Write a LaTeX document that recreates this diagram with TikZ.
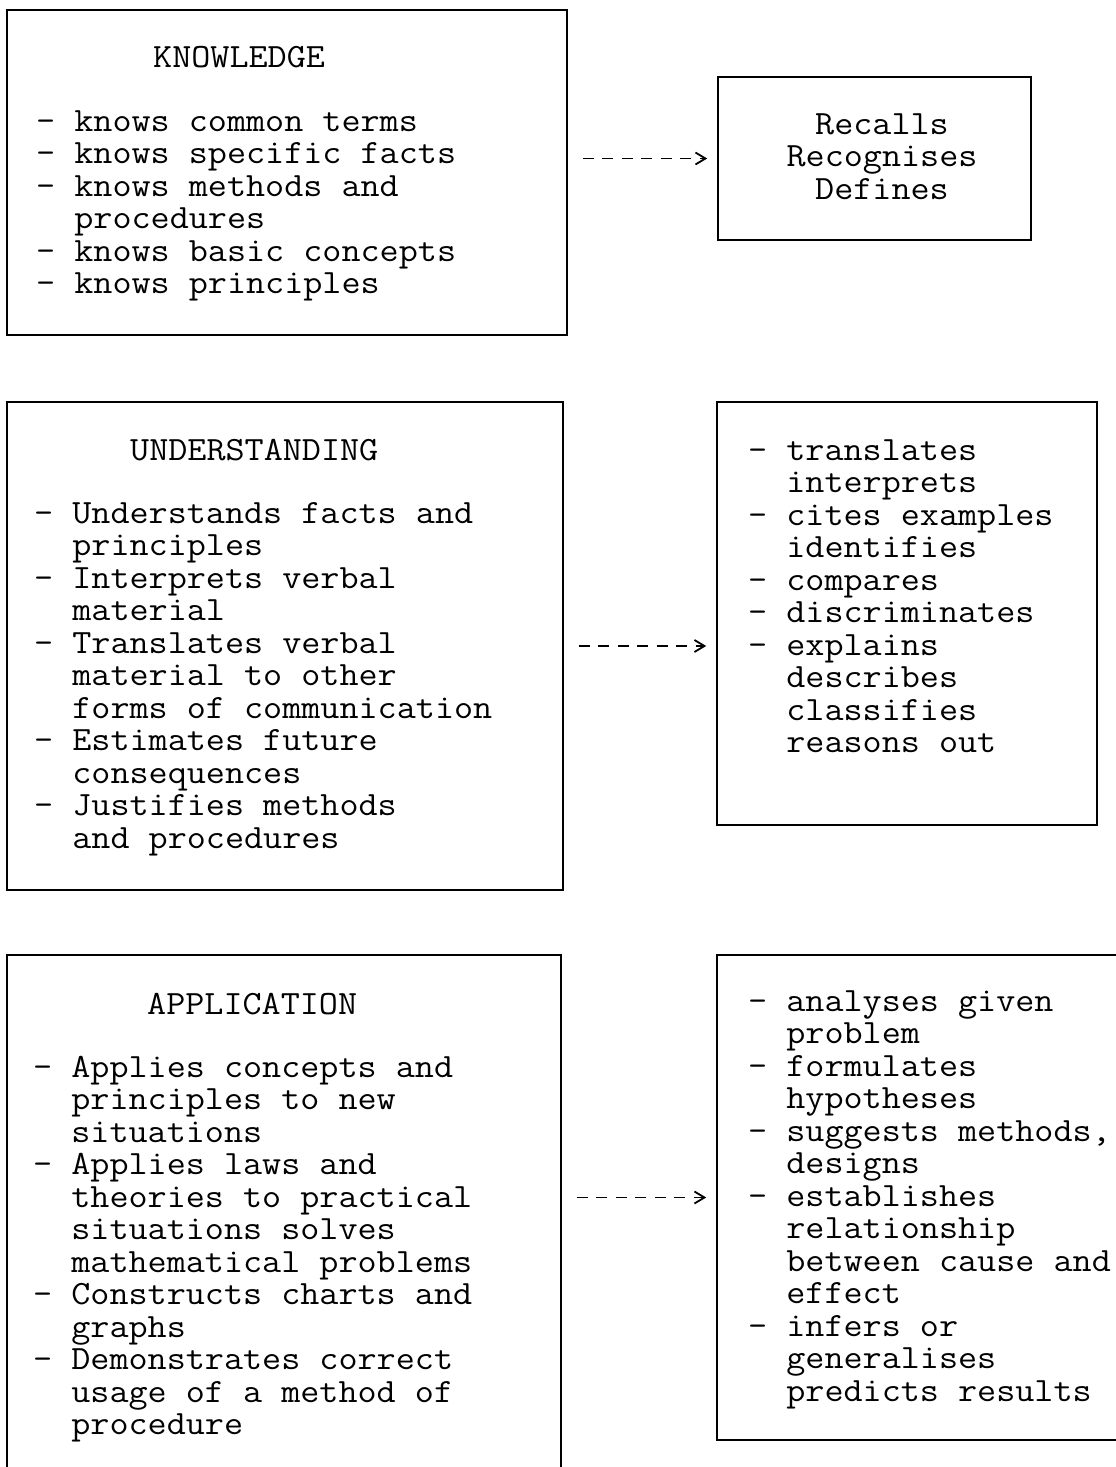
\documentclass[tikz,border=0pt]{standalone}
\usepackage{fontspec}
\newfontfamily\typer[FakeStretch=1.09]{Latin Modern Mono}
\usetikzlibrary{arrows.meta}

% hanging indent under a "- " item
\newcommand{\cont}{\hphantom{-}\ }

\begin{document}
\begin{tikzpicture}[x=1pt,y=-1pt,
  frame/.style={draw, line width=1.6pt, inner sep=0pt},
  typed/.style={font={\typer\fontsize{34}{32.5}\selectfont}, inner sep=0pt, align=left, anchor=base west},
  leads/.style={line width=1.8pt, dash pattern=on 11pt off 8.5pt, -{Straight Barb[length=10pt,width=12pt]}, shorten <=15pt, shorten >=10pt}]
  \useasboundingbox (0,0) rectangle (1116,1467);

  % left column
  \node[frame, minimum width=560pt, minimum height=325pt] (know)  at (287,172.5) {};
  \node[frame, minimum width=556pt, minimum height=488pt] (under) at (285,646) {};
  \node[frame, minimum width=554pt, minimum height=540pt] (apply) at (284,1225) {};

  % right column
  \node[frame, minimum width=313pt, minimum height=163pt] (recall)  at (874.5,158.5) {};
  \node[frame, minimum width=380pt, minimum height=423pt] (interp)  at (907,613.5) {};
  \node[frame, minimum width=430pt, minimum height=485pt] (analyse) at (932,1197.5) {};

  % texts (a list node sits on the baseline of its last line)
  \node[typed] (knowTitle) at (153,67) {KNOWLEDGE};
  \node[typed] (knowList) at (36,293.5) {- knows common terms\\
- knows specific facts\\
- knows methods and\\
\cont procedures\\
- knows basic concepts\\
- knows principles};

  \node[typed, align=center, anchor=base] (recallList) at (882,199) {Recalls\\Recognises\\Defines};

  \node[typed] (underTitle) at (130,460) {UNDERSTANDING};
  \node[typed] (underList) at (34,848) {- Understands facts and\\
\cont principles\\
- Interprets verbal\\
\cont material\\
- Translates verbal\\
\cont material to other\\
\cont forms of communication\\
- Estimates future\\
\cont consequences\\
- Justifies methods\\
\cont and procedures};

  \node[typed] (interpList) at (748,752.5) {- translates\\
\cont interprets\\
- cites examples\\
\cont identifies\\
- compares\\
- discriminates\\
- explains\\
\cont describes\\
\cont classifies\\
\cont reasons out};

  \node[typed] (applyTitle) at (147,1014) {APPLICATION};
  \node[typed] (applyList) at (33,1434.5) {- Applies concepts and\\
\cont principles to new\\
\cont situations\\
- Applies laws and\\
\cont theories to practical\\
\cont situations solves\\
\cont mathematical problems\\
- Constructs charts and\\
\cont graphs\\
- Demonstrates correct\\
\cont usage of a method of\\
\cont procedure};

  \node[typed] (analyseList) at (748,1401) {- analyses given\\
\cont problem\\
- formulates\\
\cont hypotheses\\
- suggests methods,\\
\cont designs\\
- establishes\\
\cont relationship\\
\cont between cause and\\
\cont effect\\
- infers or\\
\cont generalises\\
\cont predicts results};

  % dashed leaders
  \draw[leads] (know.east |- recall.west) -- (recall.west);
  \draw[leads] (under.east) -- (under.east -| interp.west);
  \draw[leads] (apply.east |- analyse.west) -- (analyse.west);
\end{tikzpicture}
\end{document}
